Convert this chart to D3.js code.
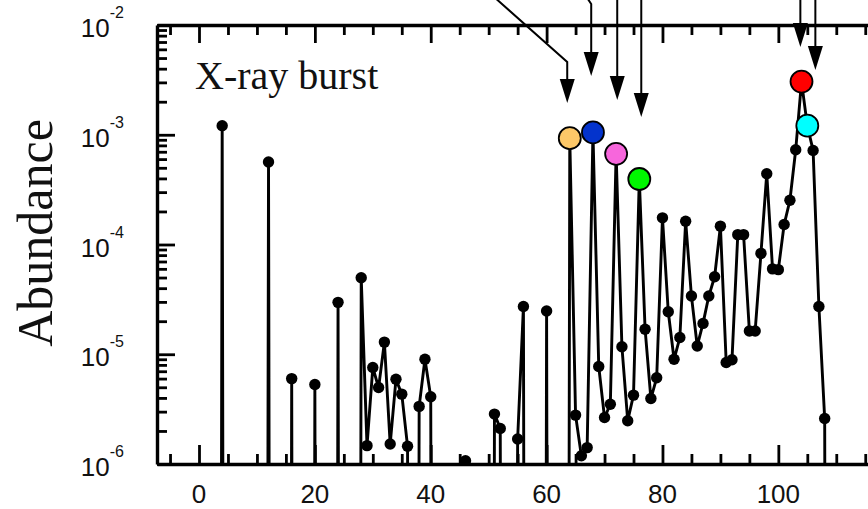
<!DOCTYPE html>
<html>
<head>
<meta charset="utf-8">
<script src="https://cdn.jsdelivr.net/npm/d3@7"></script>
<style>
    html, body { margin: 0; padding: 0; background: #fff; }
    #chart { width: 868px; height: 509px; overflow: hidden; }
</style>
</head>
<body>
<div id="chart"></div>
<script>
//---------------------------------//
// Data                            //
//---------------------------------//

const BELOW = 1e-30; // below the plotted range (< 1e-6)

// mass numbers A = 3 .. 109
const massNumber = [
      3,   4,   5,   6,   7,   8,   9,  10,  11,  12,
     13,  14,  15,  16,  17,  18,  19,  20,  21,  22,
     23,  24,  25,  26,  27,  28,  29,  30,  31,  32,
     33,  34,  35,  36,  37,  38,  39,  40,  41,  42,
     43,  44,  45,  46,  47,  48,  49,  50,  51,  52,
     53,  54,  55,  56,  57,  58,  59,  60,  61,  62,
     63,  64,  65,  66,  67,  68,  69,  70,  71,  72,
     73,  74,  75,  76,  77,  78,  79,  80,  81,  82,
     83,  84,  85,  86,  87,  88,  89,  90,  91,  92,
     93,  94,  95,  96,  97,  98,  99, 100, 101, 102,
    103, 104, 105, 106, 107, 108, 109
];

const abundance = [
    BELOW, 1.21e-3, BELOW, BELOW, BELOW, BELOW, BELOW, BELOW, BELOW, 5.65e-4,
    BELOW, BELOW, BELOW, 6.0e-6, BELOW, BELOW, BELOW, 5.3e-6, BELOW, BELOW,
    BELOW, 2.97e-5, BELOW, BELOW, BELOW, 4.97e-5, 1.47e-6, 7.57e-6, 4.97e-6, 1.29e-5,
    1.52e-6, 5.93e-6, 4.33e-6, 1.45e-6, BELOW, 3.35e-6, 9.0e-6, 4.1e-6, BELOW, BELOW,
    BELOW, BELOW, BELOW, 1.07e-6, BELOW, BELOW, BELOW, BELOW, 2.85e-6, 2.11e-6,
    BELOW, BELOW, 1.69e-6, 2.72e-5, BELOW, BELOW, BELOW, 2.48e-5, BELOW, BELOW,
    BELOW, 9.3e-4, 2.79e-6, 1.19e-6, 1.41e-6, 1.05e-3, 7.73e-6, 2.65e-6, 3.5e-6, 6.7e-4,
    1.17e-5, 2.48e-6, 4.24e-6, 3.95e-4, 1.69e-5, 3.95e-6, 6.1e-6, 1.75e-4, 2.44e-5, 9.0e-6,
    1.42e-5, 1.63e-4, 3.39e-5, 1.19e-5, 1.91e-5, 3.39e-5, 5.08e-5, 1.47e-4, 8.4e-6, 8.9e-6,
    1.23e-4, 1.23e-4, 1.63e-5, 1.63e-5, 8.3e-5, 4.42e-4, 6.0e-5, 5.9e-5, 1.52e-4, 2.53e-4,
    7.3e-4, 3.05e-3, 1.21e-3, 7.2e-4, 2.72e-5, 2.6e-6, BELOW
];

// highlighted nuclei
const highlightMass  = [64, 68, 72, 76, 104, 105];
const highlightColor = ['#fdc868', '#0433cc', '#f766dc', '#00f700', '#ff0000', '#00ffff'];

// annotation arrows (mass number, abundance at the arrow tip)
const arrowMass = [63.56, 67.7, 72.19, 76.34, 103.8, 106.39];
const arrowTip  = [1.95e-3, 3.43e-3, 2.07e-3, 1.45e-3, 6.3e-3, 3.9e-3];

// y tick decades
const yDecades = [-6, -5, -4, -3, -2];
const xLabels  = [0, 20, 40, 60, 80, 100];

//---------------------------------//
// Chart                           //
//---------------------------------//

window.Vis = window.Vis || {};

Vis.init = function() {
    Vis.width = 868;
    Vis.height = 509;
    Vis.left = 157;
    Vis.right = 900;   // frame runs past the picture edge
    Vis.top = 25;
    Vis.bottom = 464;

    Vis.svg = d3.select('#chart').append('svg')
        .attr('width', Vis.width)
        .attr('height', Vis.height);

    Vis.x = d3.scaleLinear().domain([-7.25, 121]).range([Vis.left, Vis.right]);
    Vis.y = d3.scaleLog().domain([1e-6, 1e-2]).range([Vis.bottom, Vis.top]);

    Vis.svg.append('clipPath').attr('id', 'plot-clip')
        .append('rect')
        .attr('x', Vis.left).attr('y', Vis.top)
        .attr('width', Vis.right - Vis.left).attr('height', Vis.bottom - Vis.top);

    Vis.drawAxes();
    Vis.drawData();
    Vis.drawText();
    Vis.drawArrows();
};

Vis.drawAxes = function() {
    const sans = '"Liberation Sans", Arial, Helvetica, sans-serif';

    // y ticks: decades + minor 2..9
    let yTicks = [];
    yDecades.forEach(function(d) {
        for (let m = 1; m < 10; m++) {
            let v = m * Math.pow(10, d);
            if (v <= 1e-2 + 1e-12) yTicks.push(v);
        }
    });
    const isDecade = function(v) { return Math.abs(Math.log10(v) - Math.round(Math.log10(v))) < 1e-6; };

    const gy = Vis.svg.append('g')
        .attr('transform', 'translate(' + Vis.left + ',0)')
        .call(d3.axisLeft(Vis.y).tickValues(yTicks).tickSizeInner(-10).tickSizeOuter(0).tickFormat(''));
    gy.selectAll('.tick line')
        .attr('x2', function(d) { return isDecade(d) ? 18 : 10; });

    // x ticks every 5
    let xTicks = [];
    for (let t = -5; t <= 120; t += 5) xTicks.push(t);
    const isMajor = function(t) { return t % 20 === 0; };

    const gb = Vis.svg.append('g')
        .attr('transform', 'translate(0,' + Vis.bottom + ')')
        .call(d3.axisBottom(Vis.x).tickValues(xTicks).tickSizeInner(-10).tickSizeOuter(0).tickFormat(''));
    gb.selectAll('.tick line')
        .attr('y2', function(d) { return isMajor(d) ? -19 : -10; });

    const gt = Vis.svg.append('g')
        .attr('transform', 'translate(0,' + Vis.top + ')')
        .call(d3.axisTop(Vis.x).tickValues(xTicks).tickSizeInner(-10).tickSizeOuter(0).tickFormat(''));
    gt.selectAll('.tick line')
        .attr('y2', function(d) { return isMajor(d) ? 18 : 10; });

    [gy, gb, gt].forEach(function(g) {
        g.select('.domain').attr('stroke', '#000').attr('stroke-width', 3.4);
        g.selectAll('.tick line').attr('stroke', '#000').attr('stroke-width', 2.8);
    });

    // x labels
    Vis.svg.append('g').selectAll('text')
        .data(xLabels)
        .join('text')
        .attr('x', function(d) { return Vis.x(d); })
        .attr('y', 503)
        .attr('text-anchor', 'middle')
        .style('font-family', sans)
        .style('font-size', '26px')
        .attr('fill', '#111')
        .text(function(d) { return d; });

    // y labels 10^n
    const yl = Vis.svg.append('g').selectAll('text')
        .data(yDecades)
        .join('text')
        .attr('x', 124)
        .attr('y', function(d) { return Vis.y(Math.pow(10, d)) + 12; })
        .attr('text-anchor', 'end')
        .style('font-family', sans)
        .attr('fill', '#111');
    yl.append('tspan').style('font-size', '26px').text('10');
    yl.append('tspan').style('font-size', '16px').attr('dy', -19).text(function(d) { return String(d); });
};

Vis.drawData = function() {
    const pts = massNumber.map(function(a, i) { return { a: a, v: abundance[i] }; });
    const g = Vis.svg.append('g').attr('clip-path', 'url(#plot-clip)');

    const line = d3.line()
        .x(function(d) { return Vis.x(d.a); })
        .y(function(d) { return Vis.y(d.v); });

    g.append('path')
        .datum(pts)
        .attr('d', line)
        .attr('fill', 'none')
        .attr('stroke', '#000')
        .attr('stroke-width', 2.9)
        .attr('stroke-linejoin', 'round');

    g.selectAll('circle.pt')
        .data(pts.filter(function(d) { return d.v >= 1e-6 && highlightMass.indexOf(d.a) < 0; }))
        .join('circle')
        .attr('class', 'pt')
        .attr('cx', function(d) { return Vis.x(d.a); })
        .attr('cy', function(d) { return Vis.y(d.v); })
        .attr('r', 5.7)
        .attr('fill', '#000');

    g.selectAll('circle.hl')
        .data(highlightMass)
        .join('circle')
        .attr('class', 'hl')
        .attr('cx', function(a) { return Vis.x(a); })
        .attr('cy', function(a) { return Vis.y(abundance[massNumber.indexOf(a)]); })
        .attr('r', 11)
        .attr('fill', function(a, i) { return highlightColor[i]; })
        .attr('stroke', '#000')
        .attr('stroke-width', 1.8);
};

Vis.drawText = function() {
    const serif = '"Liberation Serif", "Times New Roman", Times, serif';

    Vis.svg.append('text')
        .attr('x', 195)
        .attr('y', 89)
        .style('font-family', serif)
        .style('font-size', '40px')
        .attr('fill', '#111')
        .text('X-ray burst');

    Vis.svg.append('text')
        .attr('transform', 'translate(52,233) rotate(-90)')
        .attr('text-anchor', 'middle')
        .style('font-family', serif)
        .style('font-size', '50px')
        .attr('fill', '#111')
        .text('Abundance');
};

Vis.drawArrows = function() {
    const g = Vis.svg.append('g');
    const headLen = 24, headHalf = 7.5;

    // start points above the frame (the first two come in at an angle)
    const startDx = [-72, -8, 0, 0, 0, 0];
    const startY  = [-2, -8, -8, -8, -8, -8];
    const bendY   = [62, 4, -8, -8, -8, -8];

    arrowMass.forEach(function(a, i) {
        const x = Vis.x(a);
        const tipY = Vis.y(arrowTip[i]);
        const pts = [[x + startDx[i], startY[i]], [x, bendY[i]], [x, tipY - headLen + 2]];

        g.append('path')
            .attr('d', d3.line()(pts))
            .attr('fill', 'none')
            .attr('stroke', '#000')
            .attr('stroke-width', 2);

        g.append('path')
            .attr('d', 'M' + x + ',' + tipY +
                       'L' + (x - headHalf) + ',' + (tipY - headLen) +
                       'L' + (x + headHalf) + ',' + (tipY - headLen) + 'Z')
            .attr('fill', '#000');
    });
};

document.addEventListener('DOMContentLoaded', Vis.init);
</script>
</body>
</html>
